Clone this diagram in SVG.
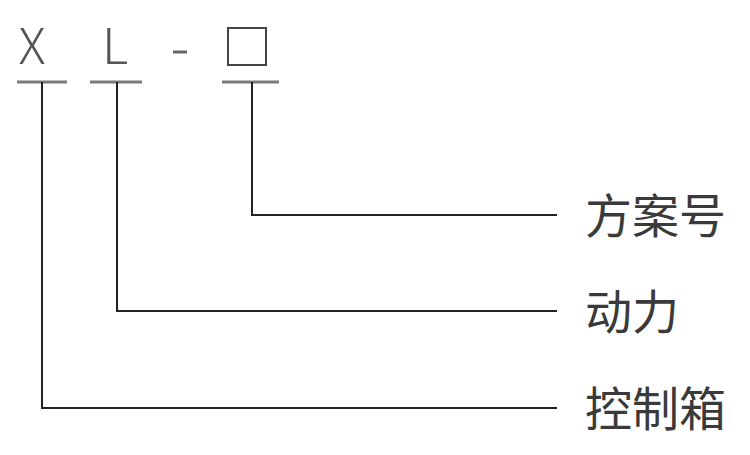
<svg xmlns="http://www.w3.org/2000/svg" width="750" height="455" viewBox="0 0 750 455">
<style>
.code{font-family:"Noto Sans CJK SC","Noto Sans",sans-serif;font-size:50px;fill:#555;font-weight:300}
.lbl{font-family:"Noto Sans CJK SC",sans-serif;font-size:47px;fill:#3a3a3a}
.ul{stroke:#7a7a7a;stroke-width:3;fill:none}
.conn{stroke:#222;stroke-width:2;fill:none}
</style>
<rect width="750" height="455" fill="#fff"/>
<g id="code-x"><text class="code" x="32" y="64" text-anchor="middle">X</text><line class="ul" x1="17" y1="82" x2="67" y2="82"/></g>
<g id="code-l"><text class="code" x="115" y="64" text-anchor="middle">L</text><line class="ul" x1="90" y1="82" x2="142" y2="82"/></g>
<g id="dash"><line x1="173" y1="52" x2="187" y2="52" stroke="#666" stroke-width="3"/></g>
<g id="code-box"><rect x="228" y="28" width="38" height="37" fill="none" stroke="#444" stroke-width="2"/><line class="ul" x1="222" y1="82" x2="279" y2="82"/></g>
<g id="connectors">
<polyline class="conn" points="252,82 252,215 557,215"/>
<polyline class="conn" points="117,82 117,311 557,311"/>
<polyline class="conn" points="42,82 42,408 557,408" stroke="#555"/>
</g>
<g id="label-fanganhao"><text class="lbl" x="585" y="233">方案号</text></g>
<g id="label-dongli"><text class="lbl" x="585" y="329">动力</text></g>
<g id="label-kongzhixiang"><text class="lbl" x="585" y="426">控制箱</text></g>
</svg>
